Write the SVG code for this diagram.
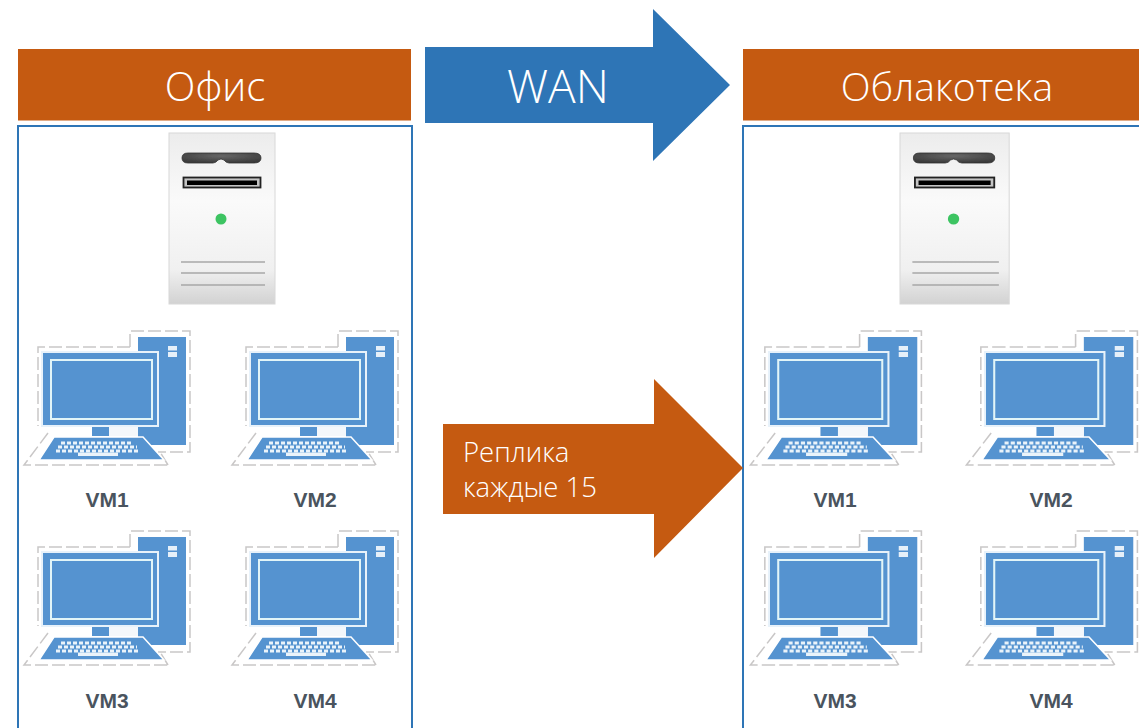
<svg xmlns="http://www.w3.org/2000/svg" width="1139" height="728" viewBox="0 0 1139 728">
<style>
.hdr{font-family:"Open Sans","Noto Sans",sans-serif;font-weight:300;font-size:39px;fill:#fff;text-anchor:middle}
.rep{font-family:"Open Sans","Noto Sans",sans-serif;font-weight:300;font-size:27.5px;fill:#fff}
.vm{font-family:"Liberation Sans",sans-serif;font-weight:700;font-size:21px;fill:#4a545e;text-anchor:middle}
.panel{fill:#fff;stroke:#2e75b6;stroke-width:2}
.dash{fill:none;stroke:#c9c7c7;stroke-width:1.500;stroke-dasharray:13 4}
.blue{fill:#5593d0}
.orange{fill:#c55a11}
.edge{stroke:#e8f2fa;stroke-width:2}
.screen{stroke:#e2f5f8;stroke-width:2}
</style>
<defs>
<filter id="soft" x="-5%" y="-5%" width="110%" height="110%"><feGaussianBlur stdDeviation="0.45"/></filter>
<linearGradient id="case" x1="0" y1="0" x2="0" y2="1"><stop offset="0" stop-color="#ececec"/><stop offset=".4" stop-color="#fafafa"/><stop offset=".8" stop-color="#f0f0f0"/><stop offset="1" stop-color="#d2d2d2"/></linearGradient>
<radialGradient id="bar" cx=".5" cy=".3" r=".7"><stop offset="0" stop-color="#666"/><stop offset="1" stop-color="#3a3a3a"/></radialGradient>
<g id="server" filter="url(#soft)">
<rect x="0" y="0" width="106" height="171" fill="url(#case)" stroke="#d8d8d8" stroke-width="1"/>
<path d="M19 20H85Q92 20 92 25Q92 30 85 30H60Q57 30 55 27Q52 25 49 27Q47 30 44 30H19Q13 30 13 25Q13 20 19 20Z" fill="url(#bar)" stroke="#333" stroke-width=".8"/>
<rect x="14.500" y="44.500" width="77" height="10" fill="#c4c4c4" stroke="#222" stroke-width="1.800"/>
<rect x="18" y="47.500" width="70" height="4.500" fill="#000"/>
<circle cx="52" cy="86" r="5.500" fill="#3cc462"/>
<path d="M12 129H96M12 140H96M12 152H96" stroke="#a8a8a8" stroke-width="1.500" fill="none"/>
</g>
<g id="pc" filter="url(#soft)">
<path class="dash" d="M130 347V331H190V452H158"/>
<path class="dash" d="M130 347H38V426"/>
<path class="dash" d="M48 433L24 465H168M168 465L160 452"/>
<rect class="blue" x="138" y="337" width="48" height="108"/>
<rect x="168" y="346" width="9" height="4.500" fill="#e6f0f9"/><rect x="168" y="352" width="9" height="5" fill="#e6f0f9"/>
<rect class="blue edge" x="42" y="352" width="116" height="74"/>
<rect class="blue screen" x="51" y="360" width="101" height="59"/>
<rect class="blue" x="92" y="427" width="17" height="9"/>
<rect x="109" y="427" width="29" height="9" fill="#f3f7fb"/>
<path class="blue" d="M54 437H143L164 460H39Z" stroke="#fff" stroke-width="1.500"/>
<path d="M61 443H132M58 447H137M56 451H140" stroke="#eaf3fa" stroke-width="3" stroke-dasharray="4 2" fill="none"/>
<rect x="78" y="452.500" width="40" height="3.500" fill="#eaf3fa"/>
</g>
</defs>
<rect width="1139" height="728" fill="#fff"/>
<g id="office">
<rect class="orange" x="18" y="49" width="393" height="71.500"/>
<text class="hdr" x="215" y="101" style="font-size:40px">Офис</text>
<rect class="panel" x="18" y="126" width="394" height="610"/>
</g>
<g id="cloud">
<rect class="orange" x="743" y="49" width="400" height="71.500"/>
<text class="hdr" x="947" y="101">Облакотека</text>
<rect class="panel" x="743" y="126" width="400" height="610"/>
</g>
<g id="office-server"><use href="#server" x="169" y="133"/></g>
<g id="cloud-server"><use href="#server" transform="translate(900 133) scale(1.030 1)"/></g>
<g id="office-vm1"><use href="#pc"/><text class="vm" x="107" y="507">VM1</text></g>
<g id="office-vm2"><use href="#pc" x="208"/><text class="vm" x="315" y="507">VM2</text></g>
<g id="office-vm3"><use href="#pc" y="200"/><text class="vm" x="107" y="708">VM3</text></g>
<g id="office-vm4"><use href="#pc" x="208" y="200"/><text class="vm" x="315" y="708">VM4</text></g>
<g id="cloud-vm1"><use href="#pc" transform="translate(725.700 0) scale(1.030 1)"/><text class="vm" x="835" y="507">VM1</text></g>
<g id="cloud-vm2"><use href="#pc" transform="translate(941.700 0) scale(1.030 1)"/><text class="vm" x="1051" y="507">VM2</text></g>
<g id="cloud-vm3"><use href="#pc" transform="translate(725.700 200) scale(1.030 1)"/><text class="vm" x="835" y="708">VM3</text></g>
<g id="cloud-vm4"><use href="#pc" transform="translate(941.700 200) scale(1.030 1)"/><text class="vm" x="1051" y="708">VM4</text></g>
<g id="connectors">
<g id="wan-arrow"><path d="M425 47H653V9L730 85L653 161V123H425Z" fill="#2e75b6"/><text class="hdr" x="558" y="103" style="font-size:46px">WAN</text></g>
<g id="replica-arrow"><path class="orange" d="M443 424H654V379L743 468L654 558V514H443Z"/><text class="rep" x="463" y="462">Реплика</text><text class="rep" x="463" y="497">каждые 15</text></g>
</g>
</svg>
